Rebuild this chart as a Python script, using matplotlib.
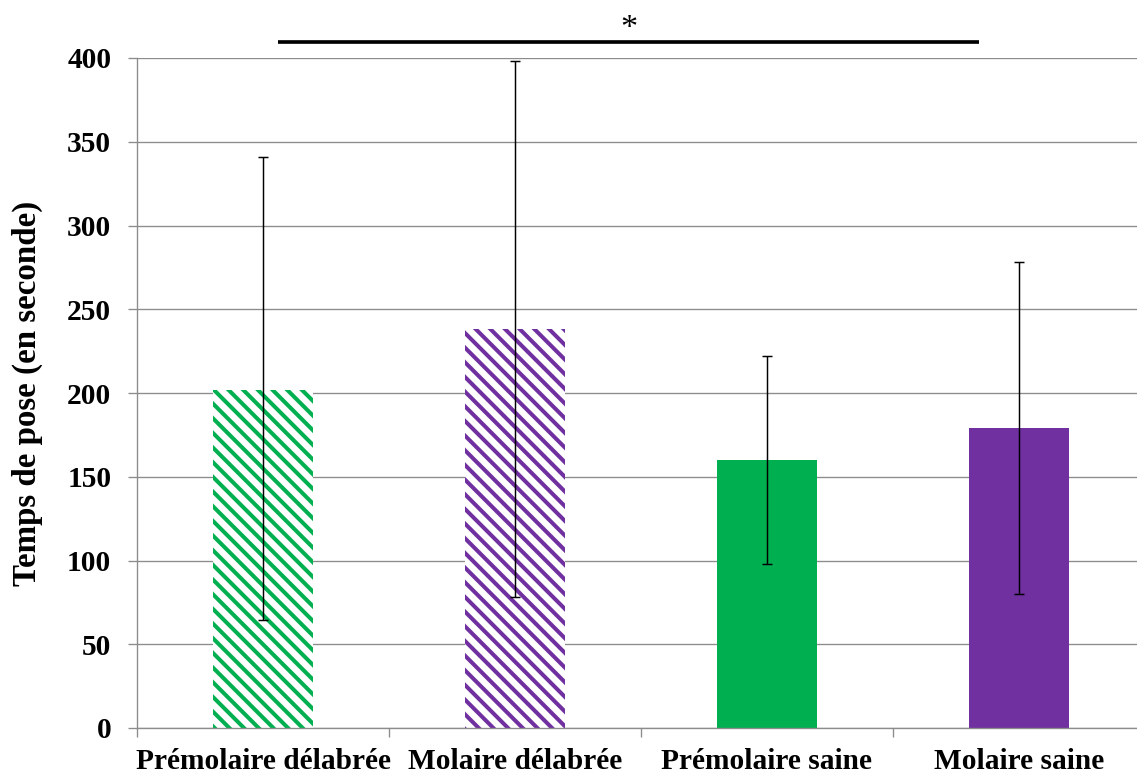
import matplotlib
matplotlib.use("Agg")
import matplotlib.pyplot as plt
import numpy as np

categories = ["Prémolaire délabrée", "Molaire délabrée", "Prémolaire saine", "Molaire saine"]
means = [202, 238, 160, 179]
err_low = [64.5, 78, 98, 80]
err_high = [341, 398, 222, 278]
colors = ["#00B050", "#7030A0", "#00B050", "#7030A0"]
hatched = [True, True, False, False]
yticks = [0, 50, 100, 150, 200, 250, 300, 350, 400]

DPI = 88
plt.rcParams['hatch.linewidth'] = 3.3
plt.rcParams['font.family'] = ['Liberation Serif', 'DejaVu Serif']

fig = plt.figure(figsize=(1137 / DPI, 776 / DPI), dpi=DPI)
ax = fig.add_axes([137 / 1137, 48 / 776, 1008 / 1137, 670 / 776])

x = np.arange(len(categories))
for i in range(len(categories)):
    if hatched[i]:
        ax.bar(x[i], means[i], width=0.40, facecolor="white", edgecolor=colors[i],
               hatch="\\\\", linewidth=0, zorder=2)
    else:
        ax.bar(x[i], means[i], width=0.40, color=colors[i], linewidth=0, zorder=2)

yerr = np.array([[m - lo for m, lo in zip(means, err_low)],
                 [hi - m for m, hi in zip(means, err_high)]])
ax.errorbar(x, means, yerr=yerr, fmt="none", ecolor="black", elinewidth=1.2,
            capsize=4, capthick=1.2, zorder=3)

ax.set_xlim(-0.5, 3.5)
ax.set_ylim(0, 400)
ax.set_yticks(yticks)
ax.set_yticklabels([str(v) for v in yticks], fontsize=24, fontweight="bold")
ax.yaxis.grid(True, color="#8c8c8c", linewidth=1.1, zorder=0)
ax.set_axisbelow(True)

ax.set_xticks(np.arange(-0.5, 4, 1.0))
ax.set_xticklabels([])
ax.set_xticks(x, minor=True)
ax.set_xticklabels(categories, minor=True, fontsize=24, fontweight="bold")
ax.tick_params(axis="x", which="minor", length=0, pad=16)
ax.tick_params(axis="x", which="major", length=7, color="#8c8c8c", width=1.1)
ax.tick_params(axis="y", length=7, color="#8c8c8c", width=1.1, pad=14)

for s in ["top", "right"]:
    ax.spines[s].set_visible(False)
for s in ["left", "bottom"]:
    ax.spines[s].set_color("#8c8c8c")
    ax.spines[s].set_linewidth(1.1)

ax.set_ylabel("Temps de pose (en seconde)", fontsize=27, fontweight="bold", labelpad=20)

ax.plot([0.06, 2.84], [409.6, 409.6], color="black", linewidth=3, clip_on=False,
        solid_capstyle="butt")
ax.text(1.45, 417.5, "*", fontsize=28, ha="center", va="center", clip_on=False)

fig.savefig("out.png", dpi=DPI)
